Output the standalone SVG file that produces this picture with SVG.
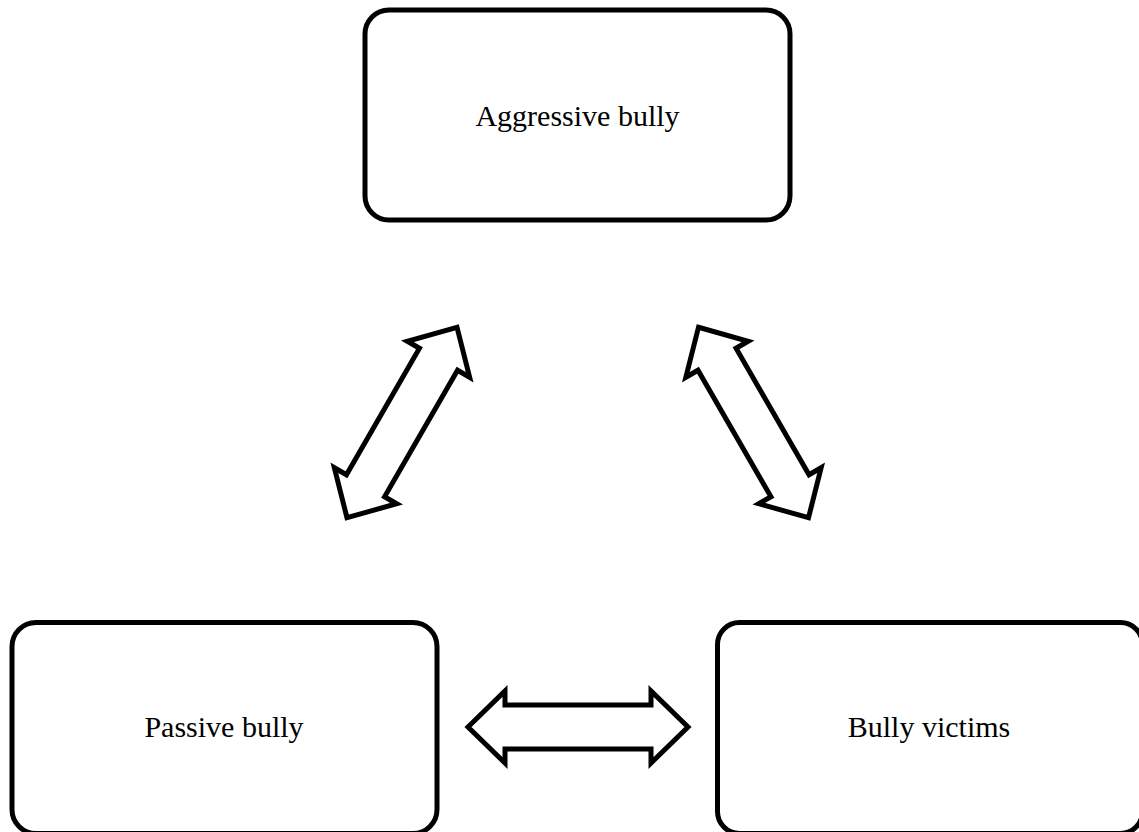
<svg xmlns="http://www.w3.org/2000/svg" width="1139" height="832" viewBox="0 0 1139 832">
<style>
.box{fill:#fff;stroke:#000;stroke-width:5}
.lbl{font-family:"Liberation Serif","Times New Roman",serif;font-size:30px;fill:#000;text-anchor:middle}
.arr{fill:#fff;stroke:#000;stroke-width:5;stroke-linejoin:miter;stroke-miterlimit:10}
</style>
<defs>
<path id="dbl" d="M -110 0 L -73 -36 L -73 -22 L 73 -22 L 73 -36 L 110 0 L 73 36 L 73 22 L -73 22 L -73 36 Z"/>
</defs>
<rect width="1139" height="832" fill="#fff"/>
<g id="aggressive">
<rect class="box" x="365" y="10" width="425" height="210" rx="24" ry="24"/>
<text class="lbl" x="577.5" y="126">Aggressive bully</text>
</g>
<g id="passive">
<rect class="box" x="12" y="622.5" width="425" height="211" rx="24" ry="24"/>
<text class="lbl" x="224" y="737">Passive bully</text>
</g>
<g id="victims">
<rect class="box" x="717.5" y="622.5" width="425" height="211" rx="22" ry="22"/>
<text class="lbl" x="929" y="737">Bully victims</text>
</g>
<g id="connectors">
<use href="#dbl" class="arr" transform="translate(402,422.5) rotate(-60)"/>
<use href="#dbl" class="arr" transform="translate(753.5,422.5) rotate(60)"/>
<use href="#dbl" class="arr" transform="translate(578,727)"/>
</g>
</svg>
